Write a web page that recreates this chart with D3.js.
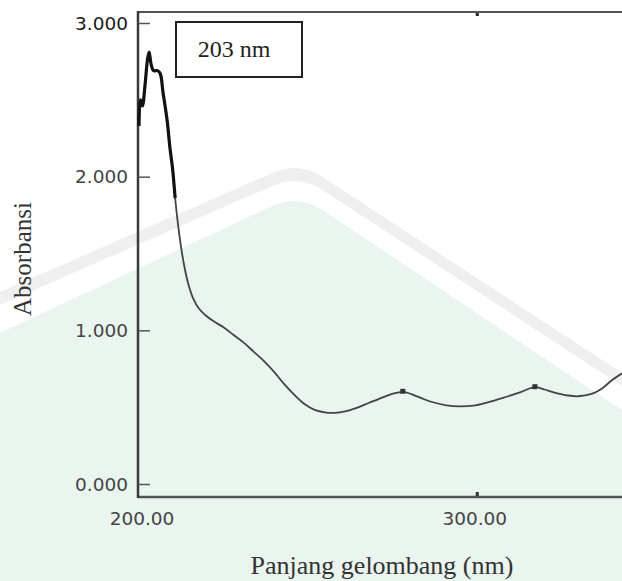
<!DOCTYPE html>
<html>
<head>
<meta charset="utf-8">
<script src="https://cdn.jsdelivr.net/npm/d3@7"></script>
<style>
  html, body { margin: 0; padding: 0; background: #fff; }
  svg { display: block; }
</style>
</head>
<body>
<svg id="chart" width="622" height="581"></svg>
<script>
// ---- data ----
const wavelength = [200.0, 200.4, 201.0, 201.8, 202.5, 203.0, 203.6, 204.3, 205.5, 206.3,
  207.1, 208.3, 209.2, 209.9, 210.7, 211.6, 212.4, 213.3, 214.5, 216.0,
  217.8, 219.6, 222.0, 225.0, 228.0, 231.0, 234.0, 237.0, 240.0, 243.0,
  246.0, 249.0, 252.0, 255.0, 258.0, 261.0, 264.0, 268.0, 272.0, 275.0,
  278.1, 281.0, 284.0, 287.0, 291.0, 295.0, 299.0, 303.0, 308.0, 313.0,
  317.2, 320.0, 323.0, 327.0, 330.0, 334.0, 337.0, 340.0, 343.0];
const absorbance = [2.33, 2.50, 2.46, 2.60, 2.76, 2.81, 2.73, 2.69, 2.69, 2.67,
  2.55, 2.37, 2.18, 2.06, 1.86, 1.68, 1.55, 1.43, 1.31, 1.21,
  1.14, 1.10, 1.06, 1.02, 0.97, 0.92, 0.86, 0.80, 0.73, 0.65,
  0.58, 0.52, 0.482, 0.466, 0.463, 0.472, 0.492, 0.527, 0.562, 0.586,
  0.60, 0.582, 0.555, 0.532, 0.512, 0.505, 0.51, 0.53, 0.562, 0.598,
  0.63, 0.615, 0.595, 0.576, 0.571, 0.586, 0.62, 0.675, 0.72];
const peakMarks = [278.1, 317.2];
const peakValues = [0.60, 0.63];
const yTicks = [0, 1, 2, 3];
const yTickLabels = ["0.000", "1.000", "2.000", "3.000"];
const xTicks = [200, 300];
const xTickLabels = ["200.00", "300.00"];
const annotation = "203 nm";
const yTitle = "Absorbansi";
const xTitle = "Panjang gelombang (nm)";

// ---- layout ----
const W = 622, H = 581;
const frameL = 138, frameT = 12, frameB = 497, frameR = 622;
const svg = d3.select("#chart");

// background (watermark tint)
svg.append("rect").attr("x", 0).attr("y", 0).attr("width", W).attr("height", H).attr("fill", "#ffffff");
svg.append("path")
  .attr("d", "M0,333 L270,207 Q294,195 318,207 L622,410 L622,581 L0,581 Z")
  .attr("fill", "#e9f5ee");
svg.append("path")
  .attr("d", "M0,292 L270,174 Q294,162 318,174 L622,373 L622,386 L318,187 Q294,175 270,187 L0,305 Z")
  .attr("fill", "#efefef");

const x = d3.scaleLinear().domain([200, 343]).range([139, 622]);
const y = d3.scaleLinear().domain([0, 3]).range([484, 23]);

// frame
svg.append("line").attr("x1", frameL).attr("x2", frameR).attr("y1", frameT).attr("y2", frameT)
  .attr("stroke", "#555").attr("stroke-width", 2);
svg.append("line").attr("x1", frameL).attr("x2", frameR).attr("y1", frameB).attr("y2", frameB)
  .attr("stroke", "#555").attr("stroke-width", 2.5);
svg.append("line").attr("x1", frameL).attr("x2", frameL).attr("y1", frameT - 1).attr("y2", frameB + 1)
  .attr("stroke", "#3a3a3a").attr("stroke-width", 2.5);

// y axis (inward ticks)
const yAxis = d3.axisRight(y).tickValues(yTicks).tickSize(12).tickFormat("");
const gy = svg.append("g").attr("transform", `translate(${frameL},0)`).call(yAxis);
gy.select(".domain").remove();
gy.selectAll(".tick line").attr("stroke", "#555").attr("stroke-width", 1.5);
svg.append("g").selectAll("text").data(yTicks).join("text")
  .attr("x", 128).attr("y", d => y(d))
  .attr("text-anchor", "end").attr("dominant-baseline", "central")
  .attr("font-family", "DejaVu Sans, Verdana, sans-serif").attr("font-size", 18.5)
  .attr("fill", (d, i) => i === 3 ? "#1a1a1a" : "#444")
  .text((d, i) => yTickLabels[i]);

// x axis
const xAxis = d3.axisTop(x).tickValues(xTicks.slice(1)).tickSize(4).tickFormat("");
const gx = svg.append("g").attr("transform", `translate(0,${frameB - 1})`).call(xAxis);
gx.select(".domain").remove();
gx.selectAll(".tick line").attr("stroke", "#333").attr("stroke-width", 3);
const gxt = svg.append("g").attr("transform", `translate(0,${frameT + 1})`).call(d3.axisBottom(x).tickValues(xTicks.slice(1)).tickSize(3).tickFormat(""));
gxt.select(".domain").remove();
gxt.selectAll(".tick line").attr("stroke", "#222").attr("stroke-width", 3);
svg.append("g").selectAll("text").data(xTicks).join("text")
  .attr("x", (d, i) => x(d) + (i === 0 ? 3 : -2)).attr("y", 525)
  .attr("text-anchor", "middle")
  .attr("font-family", "DejaVu Sans, Verdana, sans-serif").attr("font-size", 18.5)
  .attr("fill", "#444")
  .text((d, i) => xTickLabels[i]);

// titles
svg.append("text")
  .attr("transform", "translate(31,259) rotate(-90)")
  .attr("text-anchor", "middle")
  .attr("font-family", "Liberation Serif, Times New Roman, serif").attr("font-size", 25)
  .attr("fill", "#333").text(yTitle);
svg.append("text")
  .attr("x", 382).attr("y", 574).attr("text-anchor", "middle")
  .attr("font-family", "Liberation Serif, Times New Roman, serif").attr("font-size", 26)
  .attr("fill", "#333").text(xTitle);

// curve
const pts = wavelength.map((w, i) => [w, absorbance[i]]);
const line = d3.line().x(d => x(d[0])).y(d => y(d[1])).curve(d3.curveCatmullRom.alpha(0.5));
svg.append("path").datum(pts).attr("d", line)
  .attr("fill", "none").attr("stroke", "#444").attr("stroke-width", 1.8);
svg.append("path").datum(pts.filter(d => d[0] <= 210.7)).attr("d", line)
  .attr("fill", "none").attr("stroke", "#111").attr("stroke-width", 3.2);

// peak markers
svg.append("g").selectAll("rect").data(peakMarks).join("rect")
  .attr("x", d => x(d) - 2.5).attr("y", (d, i) => y(peakValues[i]) - 3)
  .attr("width", 5).attr("height", 5).attr("fill", "#333");

// annotation box
svg.append("rect").attr("x", 176).attr("y", 22).attr("width", 126).attr("height", 55)
  .attr("fill", "#fff").attr("stroke", "#222").attr("stroke-width", 2);
svg.append("text").attr("x", 234).attr("y", 57).attr("text-anchor", "middle")
  .attr("font-family", "Liberation Serif, Times New Roman, serif").attr("font-size", 24)
  .attr("fill", "#222").text(annotation);
</script>
</body>
</html>
